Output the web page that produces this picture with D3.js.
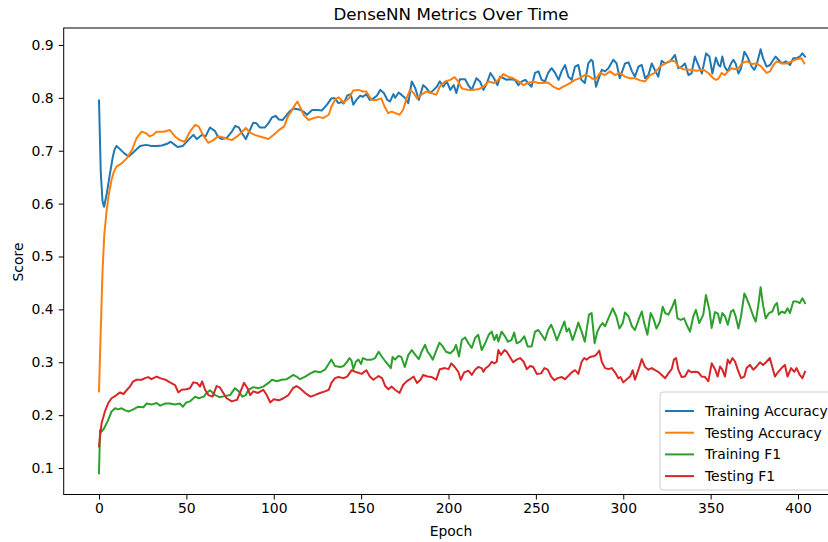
<!DOCTYPE html>
<html><head><meta charset="utf-8">
<script src="https://cdn.jsdelivr.net/npm/d3@7"></script>
<style>
html,body{margin:0;padding:0;background:#fff;}
svg{display:block;font-family:"DejaVu Sans",sans-serif;}
</style></head>
<body><svg id="chart" width="828" height="542"></svg>
<script>
const titleText = "DenseNN Metrics Over Time";
const xLabel = "Epoch";
const yLabel = "Score";
const xTicks = [0,50,100,150,200,250,300,350,400];
const yTicks = [0.1,0.2,0.3,0.4,0.5,0.6,0.7,0.8,0.9];
const seriesNames = ["Training Accuracy","Testing Accuracy","Training F1","Testing F1"];
const seriesColors = ["#1f77b4","#ff7f0e","#2ca02c","#d62728"];

// [epoch, value]
const trainingAccuracy = [[0,0.795],[1,0.66],[2,0.605],[2.9,0.594],[4.5,0.62],[6.3,0.657],[8,0.69],[9,0.703],[10,0.709],[12,0.703],[14.5,0.695],[17,0.689],[20,0.698],[23.5,0.709],[27,0.711],[30,0.709],[33,0.709],[36,0.71],[39,0.713],[41,0.717],[43,0.712],[45,0.707],[48,0.709],[51,0.72],[54,0.73],[56,0.722],[59,0.73],[61,0.727],[63.5,0.744],[66.4,0.737],[68,0.727],[70,0.722],[73,0.724],[76,0.736],[78,0.747],[80,0.744],[82,0.732],[84,0.722],[85.5,0.733],[88.3,0.753],[90,0.752],[92,0.744],[95,0.744],[97,0.752],[99,0.763],[101,0.766],[103,0.759],[105,0.758],[107,0.766],[109,0.774],[111.5,0.78],[114.5,0.778],[117,0.774],[119,0.768],[122,0.777],[125,0.777],[127.5,0.776],[130.5,0.787],[133,0.799],[135,0.799],[137,0.79],[139,0.792],[140,0.789],[142,0.804],[144,0.807],[145.5,0.787],[147.5,0.797],[149.5,0.804],[151,0.802],[153,0.807],[155,0.796],[157,0.799],[159,0.804],[161,0.815],[163,0.809],[165,0.796],[166.5,0.793],[168.5,0.807],[169.5,0.8],[171.5,0.81],[173,0.806],[175,0.8],[177,0.79],[179,0.831],[181,0.818],[183,0.796],[185.5,0.824],[187.5,0.818],[189.5,0.809],[191.5,0.815],[193.3,0.821],[195,0.831],[197,0.821],[199,0.831],[201,0.815],[203,0.824],[204.5,0.809],[206.5,0.835],[209.5,0.835],[211.5,0.823],[213.3,0.815],[216,0.837],[218,0.831],[220,0.815],[222,0.828],[224,0.847],[226,0.837],[228,0.824],[229.5,0.84],[231.5,0.837],[233.3,0.834],[235,0.835],[238,0.834],[240,0.824],[242,0.831],[244,0.834],[245.5,0.828],[247.5,0.821],[249.5,0.847],[251.5,0.85],[253.3,0.834],[255.2,0.831],[257,0.847],[259,0.856],[261,0.847],[263,0.834],[264.7,0.85],[266.7,0.862],[268.6,0.84],[270.5,0.834],[272.4,0.859],[274.3,0.862],[276,0.834],[278,0.828],[280,0.865],[281.6,0.872],[282.5,0.869],[284.4,0.821],[285.7,0.834],[287.7,0.853],[289.6,0.85],[291.5,0.856],[294.3,0.872],[296.2,0.865],[298,0.837],[301,0.865],[303,0.867],[305,0.85],[306.7,0.84],[308.7,0.859],[310.6,0.862],[312.5,0.837],[314.4,0.843],[316.3,0.865],[318,0.853],[320,0.84],[322,0.87],[324,0.865],[326.8,0.869],[329.6,0.881],[331.5,0.856],[333.5,0.859],[335.3,0.865],[337.3,0.843],[339,0.846],[341,0.878],[343,0.862],[345,0.846],[347.4,0.884],[349.3,0.878],[351,0.846],[353,0.876],[354.5,0.862],[355.5,0.859],[356.7,0.878],[358,0.859],[359.8,0.85],[361.7,0.865],[363,0.872],[364.3,0.865],[365.9,0.846],[367.4,0.856],[369.3,0.887],[371,0.878],[373.5,0.859],[375,0.853],[376.3,0.862],[378.6,0.892],[380,0.875],[382,0.859],[384,0.862],[385.9,0.872],[387.2,0.878],[388.8,0.872],[390.7,0.865],[393,0.869],[395.4,0.862],[397.3,0.875],[399.2,0.875],[401,0.878],[402.5,0.884],[404,0.878]];

const testingAccuracy = [[0,0.245],[1,0.36],[2,0.47],[3,0.54],[4.4,0.588],[5.5,0.615],[7.2,0.645],[8.5,0.66],[10,0.67],[13,0.676],[16,0.686],[19,0.702],[21.5,0.724],[24.4,0.736],[27,0.733],[29,0.727],[31,0.73],[33,0.736],[37,0.736],[40.6,0.739],[42,0.733],[43.5,0.727],[46.3,0.72],[49,0.717],[52,0.736],[55,0.749],[57,0.746],[60,0.727],[62.5,0.715],[65.4,0.72],[68,0.727],[69,0.727],[72,0.724],[76,0.72],[79,0.727],[82,0.736],[84,0.743],[86.5,0.734],[89,0.73],[92,0.727],[95,0.724],[97,0.722],[100,0.73],[103,0.739],[106,0.746],[108,0.764],[110,0.774],[111.5,0.783],[113.5,0.793],[115.5,0.78],[117,0.768],[120,0.758],[123,0.762],[125.5,0.764],[128.5,0.762],[131.5,0.768],[133,0.783],[135,0.796],[137,0.801],[139,0.795],[140,0.791],[143,0.799],[145.5,0.814],[148.5,0.815],[151,0.812],[153,0.812],[156,0.796],[159,0.796],[161.5,0.799],[163.5,0.783],[165.5,0.771],[167.5,0.774],[169,0.772],[172,0.768],[174,0.777],[176,0.799],[178,0.815],[180,0.809],[182,0.799],[184.5,0.806],[187.5,0.812],[190,0.809],[193,0.806],[195,0.821],[198,0.831],[201,0.834],[203.5,0.839],[205.5,0.831],[207.5,0.818],[209.5,0.816],[211.5,0.815],[213.3,0.815],[217,0.816],[220,0.821],[223,0.831],[226,0.828],[228.5,0.834],[231.5,0.845],[234,0.84],[237,0.837],[240,0.831],[243,0.824],[245.5,0.828],[248.5,0.831],[251.5,0.828],[254,0.828],[257,0.829],[260,0.821],[263,0.816],[265.7,0.821],[268.6,0.826],[272.4,0.834],[275,0.837],[278,0.843],[281,0.84],[282,0.837],[284,0.834],[286.7,0.847],[289.6,0.843],[292.4,0.85],[295.3,0.843],[298,0.847],[301,0.84],[303.8,0.837],[306.7,0.837],[309.6,0.833],[312.5,0.831],[315.3,0.843],[318,0.847],[321,0.859],[324,0.865],[326.8,0.87],[329.6,0.869],[331.5,0.859],[334.4,0.854],[338,0.853],[342,0.851],[346,0.853],[348.7,0.847],[351.5,0.837],[353,0.834],[354.4,0.836],[356.3,0.847],[358,0.843],[360,0.85],[362,0.856],[364,0.854],[366,0.856],[367.8,0.865],[370.6,0.869],[373.5,0.864],[376.3,0.865],[379,0.859],[382,0.847],[384,0.85],[385.9,0.862],[387.8,0.869],[390.7,0.865],[393.5,0.865],[396.4,0.869],[399.2,0.873],[402,0.875],[403.6,0.865]];

const trainingF1 = [[0,0.09],[0.6,0.172],[1.5,0.169],[2.9,0.175],[5.3,0.191],[7.2,0.207],[9.2,0.213],[11,0.211],[13,0.213],[15,0.209],[17,0.207],[19.6,0.211],[22.5,0.216],[25.4,0.215],[27.3,0.222],[30,0.22],[33,0.223],[35,0.218],[38,0.222],[40.6,0.222],[43.5,0.22],[46.3,0.222],[48,0.216],[50,0.224],[52,0.226],[55,0.235],[57,0.232],[60,0.235],[61.6,0.242],[63.5,0.247],[66.4,0.238],[69,0.234],[72,0.236],[75,0.238],[77.8,0.251],[80,0.245],[82,0.235],[84,0.238],[85.5,0.248],[88.3,0.253],[91,0.251],[94,0.254],[97,0.261],[99,0.267],[101.7,0.264],[104.5,0.267],[107.4,0.268],[109.3,0.272],[111.2,0.276],[113,0.273],[115,0.268],[118,0.273],[121,0.279],[123.5,0.283],[126.5,0.281],[129.3,0.286],[132,0.3],[133,0.305],[135,0.293],[138,0.291],[140,0.293],[142,0.301],[143.3,0.308],[144.5,0.303],[145.5,0.287],[147,0.301],[148.4,0.305],[150,0.297],[151,0.308],[153,0.305],[156,0.305],[158,0.308],[160,0.32],[162,0.31],[164,0.301],[165.6,0.295],[167,0.289],[168,0.31],[169.4,0.305],[171.3,0.312],[173,0.31],[175,0.291],[177,0.314],[179,0.323],[181,0.314],[183,0.306],[184.6,0.32],[186.6,0.333],[188,0.32],[189.4,0.314],[191,0.305],[193,0.322],[194.8,0.337],[196.7,0.33],[198.6,0.32],[201,0.317],[203,0.323],[204.3,0.333],[206,0.311],[207.6,0.342],[209.5,0.347],[211.4,0.336],[213.3,0.327],[215.2,0.346],[217,0.352],[219,0.323],[221,0.336],[223,0.352],[224.7,0.358],[226.2,0.342],[227.6,0.352],[228.5,0.339],[230.4,0.358],[232.3,0.349],[234,0.339],[236,0.342],[237.6,0.356],[239,0.336],[241,0.339],[243.4,0.349],[245.3,0.33],[247.6,0.33],[249.5,0.358],[251.4,0.361],[253.3,0.352],[255.2,0.342],[257,0.361],[258.7,0.371],[260,0.361],[262,0.342],[264,0.358],[266.3,0.377],[267.6,0.358],[269,0.364],[271,0.342],[272.4,0.355],[274.3,0.375],[276.2,0.358],[278,0.339],[280.4,0.39],[281.9,0.393],[283.6,0.336],[285.2,0.358],[286.7,0.368],[288.2,0.374],[289.6,0.368],[291.5,0.383],[294,0.402],[296,0.387],[297.8,0.364],[299.7,0.374],[301,0.394],[303,0.387],[305,0.368],[306.7,0.361],[308.7,0.38],[310.6,0.396],[312,0.374],[313.8,0.352],[315.7,0.393],[317.2,0.383],[319,0.364],[321,0.377],[322.6,0.405],[324,0.393],[325.8,0.39],[327.7,0.402],[329.6,0.418],[331,0.383],[332.9,0.38],[334.8,0.383],[336.7,0.368],[338.2,0.358],[340.1,0.387],[341.6,0.399],[343.5,0.374],[345.8,0.39],[347.3,0.427],[349.3,0.399],[350.6,0.365],[352.5,0.395],[354.2,0.392],[355.4,0.374],[356.7,0.393],[358.2,0.387],[359.8,0.371],[361.7,0.396],[363,0.399],[364.3,0.387],[365.9,0.364],[367.4,0.387],[369.3,0.43],[370.6,0.421],[372.5,0.405],[374.4,0.387],[375.8,0.377],[377.3,0.408],[378.6,0.442],[380,0.408],[381.5,0.383],[383.4,0.393],[385.3,0.396],[386.8,0.408],[388,0.412],[389,0.39],[390.7,0.396],[392.5,0.393],[394,0.402],[395.4,0.393],[397.3,0.415],[399.2,0.415],[401,0.412],[402.5,0.421],[404,0.412]];

const testingF1 = [[0,0.141],[0.6,0.16],[1.5,0.185],[3.4,0.207],[5.3,0.223],[7.2,0.232],[10,0.238],[12,0.243],[14,0.24],[16,0.248],[17.7,0.254],[19.6,0.264],[21.5,0.267],[24.4,0.267],[26.3,0.27],[28.2,0.272],[30,0.268],[33,0.273],[35,0.27],[38,0.267],[40.6,0.262],[43.5,0.257],[45.4,0.243],[47.3,0.248],[50,0.249],[52,0.251],[54,0.262],[56,0.261],[57.8,0.254],[59,0.264],[60.7,0.248],[62.6,0.238],[65,0.235],[67.3,0.255],[69,0.253],[70,0.248],[73,0.232],[76,0.226],[79,0.229],[81,0.245],[83,0.261],[85,0.251],[86.5,0.238],[88.3,0.245],[91,0.242],[94,0.248],[96,0.238],[98,0.224],[100,0.23],[103,0.228],[105.5,0.232],[108.4,0.238],[111,0.251],[113,0.255],[115,0.251],[118,0.242],[121,0.235],[123.5,0.238],[126.5,0.242],[129.3,0.245],[131.5,0.248],[133,0.261],[135,0.27],[137,0.272],[140,0.27],[142,0.273],[144.6,0.285],[147.5,0.281],[150.3,0.278],[153,0.285],[155,0.273],[157,0.267],[160,0.274],[162,0.27],[163.8,0.255],[165.6,0.249],[167.5,0.254],[169.4,0.248],[172,0.242],[174,0.257],[176,0.264],[178,0.268],[180,0.273],[182,0.261],[184,0.267],[185.5,0.276],[188,0.273],[190.4,0.272],[193,0.267],[195,0.287],[198,0.289],[200,0.287],[201.6,0.298],[203.6,0.291],[205.6,0.282],[207,0.267],[209,0.281],[211.4,0.284],[213.3,0.276],[215.2,0.286],[217,0.291],[219,0.289],[220,0.282],[221.3,0.289],[223,0.293],[224.7,0.301],[226.2,0.298],[227.6,0.301],[228.5,0.323],[230,0.314],[232,0.323],[233.3,0.32],[235,0.311],[237,0.3],[239,0.305],[241,0.308],[243,0.301],[244.8,0.287],[246.7,0.293],[248.5,0.291],[250.5,0.278],[253,0.279],[254.9,0.289],[256.8,0.286],[258.7,0.273],[260.6,0.266],[262.5,0.27],[264.8,0.272],[266.6,0.268],[268.5,0.274],[270.5,0.281],[272.4,0.285],[274.3,0.278],[276.2,0.301],[277.7,0.308],[279,0.305],[281,0.31],[283.5,0.312],[284.5,0.314],[286.3,0.322],[287.7,0.301],[289.6,0.289],[291.5,0.287],[293.4,0.289],[295.3,0.281],[297.2,0.27],[298.5,0.272],[300,0.262],[302,0.268],[303.9,0.273],[305.4,0.285],[306.7,0.267],[308.7,0.286],[310.6,0.306],[312.5,0.291],[314.4,0.286],[316.3,0.289],[318.2,0.285],[320,0.282],[322,0.276],[324,0.27],[325.8,0.279],[327.7,0.287],[329,0.305],[330.2,0.308],[331.5,0.286],[333.4,0.272],[335.3,0.273],[337.3,0.285],[339.1,0.281],[341,0.282],[343,0.281],[344.9,0.273],[346.8,0.272],[348.7,0.264],[350.6,0.298],[352.5,0.287],[354,0.273],[355.4,0.292],[356.7,0.286],[358.2,0.273],[359.8,0.305],[361,0.298],[362.5,0.308],[364,0.301],[365.5,0.286],[367.4,0.27],[369.3,0.273],[370.6,0.289],[372.5,0.295],[374.4,0.286],[376.3,0.292],[378.2,0.3],[380,0.295],[382,0.301],[383.9,0.308],[385.2,0.292],[386.8,0.273],[388.7,0.282],[390.6,0.289],[392.5,0.295],[394,0.273],[396,0.289],[397.9,0.282],[399.2,0.289],[401,0.276],[402.5,0.27],[404,0.282]];

const allSeries = [trainingAccuracy, testingAccuracy, trainingF1, testingF1];

const svg = d3.select("#chart");
const plot = {left: 63.7, right: 840.3, top: 28, bottom: 494.5};
const x = d3.scaleLinear().domain([-20.2, 424.2]).range([plot.left, plot.right]);
const y = d3.scaleLinear().domain([0.05, 0.932]).range([plot.bottom, plot.top]);

svg.append("defs").append("clipPath").attr("id","clip")
  .append("rect").attr("x",plot.left).attr("y",plot.top)
  .attr("width",plot.right-plot.left).attr("height",plot.bottom-plot.top);

const line = d3.line().x(d=>x(d[0])).y(d=>y(d[1]));
const g = svg.append("g").attr("clip-path","url(#clip)");
allSeries.forEach((s,i)=>{
  g.append("path").datum(s).attr("d",line)
    .attr("fill","none").attr("stroke",seriesColors[i])
    .attr("stroke-width",2).attr("stroke-linejoin","round").attr("stroke-linecap","square");
});

// frame
svg.append("rect").attr("x",plot.left).attr("y",plot.top)
  .attr("width",plot.right-plot.left).attr("height",plot.bottom-plot.top)
  .attr("fill","none").attr("stroke","#000").attr("stroke-width",1);

const FS = 13.9;
// axes
const xAxis = d3.axisBottom(x).tickValues(xTicks).tickSize(5).tickPadding(4).tickFormat(d3.format("d"));
const gx = svg.append("g").attr("transform",`translate(0,${plot.bottom})`).call(xAxis);
gx.select(".domain").remove();
gx.selectAll("text").attr("font-size",FS).attr("font-family","DejaVu Sans").attr("fill","#000");
gx.selectAll("line").attr("stroke","#000");

const yAxis = d3.axisLeft(y).tickValues(yTicks).tickSize(5).tickPadding(5).tickFormat(d3.format(".1f"));
const gy = svg.append("g").attr("transform",`translate(${plot.left},0)`).call(yAxis);
gy.select(".domain").remove();
gy.selectAll("text").attr("font-size",FS).attr("font-family","DejaVu Sans").attr("fill","#000");
gy.selectAll("line").attr("stroke","#000");

// labels
svg.append("text").attr("x",451).attr("y",20).attr("text-anchor","middle")
  .attr("font-size",16.7).text(titleText);
svg.append("text").attr("x",451).attr("y",536).attr("text-anchor","middle")
  .attr("font-size",FS).text(xLabel);
svg.append("text").attr("transform","translate(23,262) rotate(-90)").attr("text-anchor","middle")
  .attr("font-size",FS).text(yLabel);

// legend
const lg = svg.append("g");
lg.append("rect").attr("x",660).attr("y",392).attr("width",200).attr("height",98)
  .attr("rx",3).attr("fill","#fff").attr("fill-opacity",0.8).attr("stroke","#ccc");
seriesNames.forEach((n,i)=>{
  const yy = 411 + i*21.7;
  lg.append("line").attr("x1",665).attr("x2",694).attr("y1",yy).attr("y2",yy)
    .attr("stroke",seriesColors[i]).attr("stroke-width",2);
  lg.append("text").attr("x",705).attr("y",yy+5).attr("font-size",FS).text(n);
});
</script></body></html>
